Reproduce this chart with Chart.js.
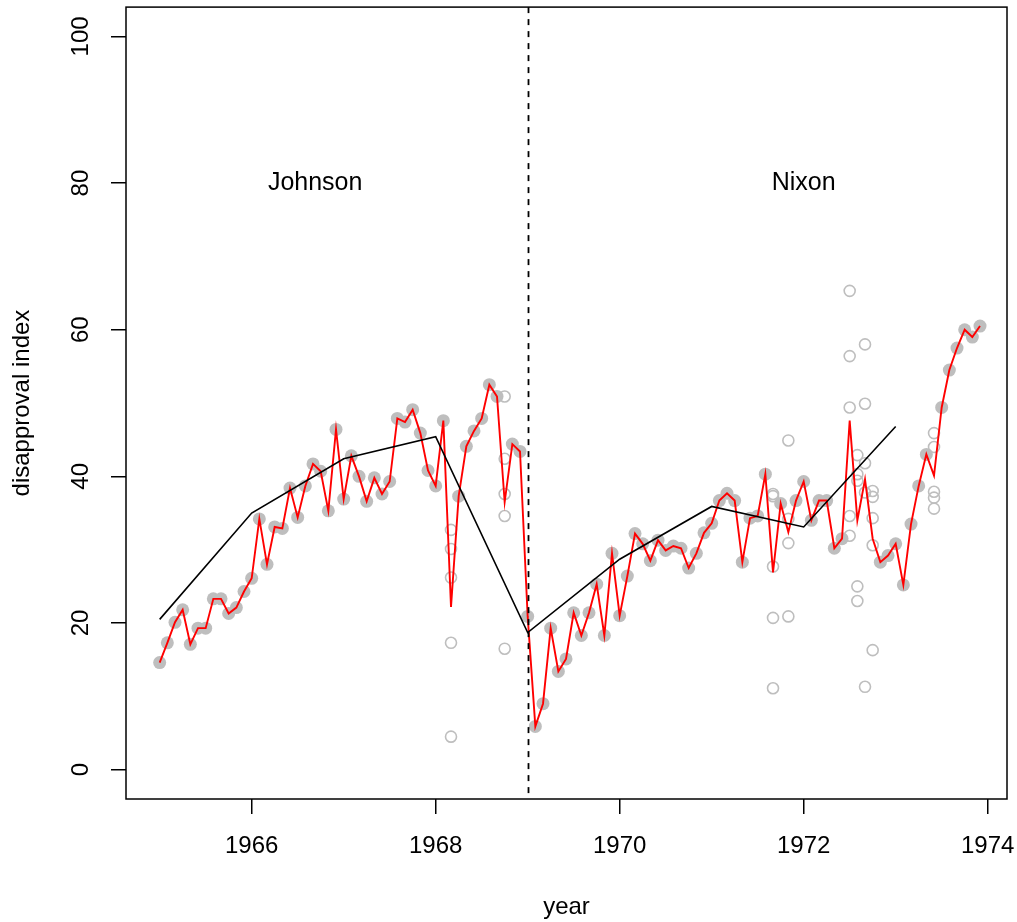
<!DOCTYPE html>
<html lang="en">
<head>
    <meta charset="UTF-8">
    <title>Disapproval index, Johnson and Nixon</title>
    <style>
        body {
            margin: 0;
            background: #ffffff;
        }
        #chart-wrap {
            width: 1017px;
            height: 922px;
        }
    </style>
</head>
<body>
    <div id="chart-wrap">
        <canvas id="chart" width="1017" height="922"></canvas>
    </div>
    <script src="https://cdn.jsdelivr.net/npm/chart.js@4/dist/chart.umd.min.js"></script>
    <script>
        // monthly series starts Jan 1965, one value per month
        const startYear = 1965;
        const monthlyIndex = [
            14.6, 17.3, 20.1, 21.8, 17.1, 19.3, 19.3, 23.3, 23.3, 21.3, 22.1, 24.3,
            26.1, 34.2, 28.0, 33.1, 32.9, 38.4, 34.4, 38.7, 41.7, 40.7, 35.3, 46.4,
            36.9, 42.8, 40.0, 36.6, 39.8, 37.6, 39.3, 47.9, 47.4, 49.1, 45.9, 40.8,
            38.7, 47.6, 22.2, 37.3, 44.1, 46.2, 47.9, 52.5, 50.9, 36.5, 44.4, 43.4,
            20.9, 5.9, 9.0, 19.3, 13.4, 15.1, 21.4, 18.3, 21.4, 25.3, 18.3, 29.5,
            21.0, 26.4, 32.2, 30.8, 28.5, 31.3, 29.9, 30.5, 30.2, 27.5, 29.5, 32.3,
            33.6, 36.7, 37.7, 36.7, 28.3, 34.3, 34.6, 40.3, 26.9, 36.3, 32.4, 36.7,
            39.3, 34.0, 36.7, 36.7, 30.2, 31.5, 47.6, 34.0, 39.6, 31.5, 28.3, 29.2,
            30.8, 25.2, 33.5, 38.7, 43.0, 40.1, 49.4, 54.5, 57.5, 60.0, 59.0, 60.5
        ];

        // months with several polls: month number (from Jan 1965) and the single polls
        const multiPollMonths = [38, 45, 80, 82, 90, 91, 92, 93, 101];
        const multiPollValues = [
            [32.7, 30.1, 26.2, 17.3, 4.5],
            [50.9, 42.4, 37.6, 34.6, 16.5],
            [37.6, 37.3, 27.7, 20.7, 11.1],
            [44.9, 34.2, 30.9, 20.9],
            [65.3, 56.4, 49.4, 34.6, 31.9],
            [42.9, 40.3, 39.4, 25.0, 23.0],
            [58.0, 49.9, 41.8, 37.8, 11.3],
            [38.0, 37.2, 34.3, 30.6, 16.3],
            [45.9, 44.0, 37.9, 37.1, 35.6]
        ];

        // yearly level, plotted at the start of each year
        const years = [1965, 1966, 1967, 1968, 1969, 1970, 1971, 1972, 1973];
        const yearlyIndex = [20.5, 35.0, 42.4, 45.4, 18.7, 28.7, 35.9, 33.1, 46.8];

        const xTicks = [1966, 1968, 1970, 1972, 1974];
        const yTicks = [0, 20, 40, 60, 80, 100];

        const presidents = ['Johnson', 'Nixon'];
        const presidentLabelX = [1966.69, 1972.0];
        const presidentLabelY = 80;
        const changeOver = 1969;

        const FONT = '"Liberation Sans", Arial, Helvetica, sans-serif';
        const GREY = '#bebebe';

        const monthX = i => startYear + i / 12;

        const redLine = monthlyIndex.map((v, i) => ({x: monthX(i), y: v}));
        const singlePolls = monthlyIndex
            .map((v, i) => ({x: monthX(i), y: v}))
            .filter((p, i) => !multiPollMonths.includes(i));
        const manyPolls = [];
        multiPollMonths.forEach((m, k) => {
            multiPollValues[k].forEach(v => manyPolls.push({x: monthX(m), y: v}));
        });
        const blackLine = years.map((yr, i) => ({x: yr, y: yearlyIndex[i]}));

        const extras = {
            id: 'extras',
            afterDatasetsDraw(chart) {
                const {ctx, chartArea: a, scales: {x, y}} = chart;
                ctx.save();
                // vertical dashed line at the change of president
                const px = Math.round(x.getPixelForValue(changeOver)) + 0.5;
                ctx.strokeStyle = '#000';
                ctx.lineWidth = 1.8;
                ctx.setLineDash([6, 6]);
                ctx.beginPath();
                ctx.moveTo(px, a.top);
                ctx.lineTo(px, a.bottom);
                ctx.stroke();
                ctx.setLineDash([]);
                // plot box
                ctx.lineWidth = 1.5;
                ctx.strokeRect(a.left, a.top, a.right - a.left, a.bottom - a.top);
                // president names
                ctx.font = '25px ' + FONT;
                ctx.fillStyle = '#000';
                ctx.textAlign = 'center';
                ctx.textBaseline = 'middle';
                presidents.forEach((name, i) => {
                    ctx.fillText(name, x.getPixelForValue(presidentLabelX[i]), y.getPixelForValue(presidentLabelY));
                });
                ctx.restore();
            }
        };

        new Chart(document.getElementById('chart'), {
            type: 'scatter',
            data: {
                datasets: [
                    {
                        label: 'yearly',
                        data: blackLine,
                        showLine: true,
                        borderColor: '#000',
                        borderWidth: 1.6,
                        pointRadius: 0,
                        order: 1
                    },
                    {
                        label: 'monthly',
                        data: redLine,
                        showLine: true,
                        borderColor: '#ff0000',
                        borderWidth: 1.9,
                        pointRadius: 0,
                        order: 2
                    },
                    {
                        label: 'single poll',
                        data: singlePolls,
                        pointRadius: 6.5,
                        pointBorderWidth: 0,
                        pointBackgroundColor: GREY,
                        pointBorderColor: GREY,
                        order: 3
                    },
                    {
                        label: 'several polls',
                        data: manyPolls,
                        pointRadius: 5.5,
                        pointBorderWidth: 1.6,
                        pointBackgroundColor: 'rgba(0,0,0,0)',
                        pointBorderColor: GREY,
                        order: 4
                    }
                ]
            },
            options: {
                responsive: false,
                animation: false,
                events: [],
                layout: {padding: {top: 6, right: 10, left: 0, bottom: 0}},
                plugins: {
                    legend: {display: false},
                    tooltip: {enabled: false}
                },
                scales: {
                    x: {
                        type: 'linear',
                        min: 1964.634,
                        max: 1974.21,
                        afterBuildTicks: s => { s.ticks = xTicks.map(v => ({value: v})); },
                        afterFit: s => {
                            s.height = 123;
                            s.paddingLeft = 0;
                            s.paddingRight = 0;
                        },
                        border: {display: false},
                        grid: {
                            drawOnChartArea: false,
                            drawTicks: true,
                            tickLength: 15,
                            color: '#000',
                            lineWidth: 1.5
                        },
                        ticks: {
                            color: '#000',
                            font: {family: FONT, size: 24},
                            padding: 18,
                            autoSkip: false,
                            maxRotation: 0,
                            callback: v => String(v)
                        },
                        title: {
                            display: true,
                            text: 'year',
                            color: '#000',
                            font: {family: FONT, size: 24},
                            padding: {top: 0, bottom: 0}
                        }
                    },
                    y: {
                        type: 'linear',
                        min: -4,
                        max: 104,
                        afterBuildTicks: s => { s.ticks = yTicks.map(v => ({value: v})); },
                        afterFit: s => {
                            s.width = 126;
                            s.paddingTop = 0;
                            s.paddingBottom = 0;
                        },
                        border: {display: false},
                        grid: {
                            drawOnChartArea: false,
                            drawTicks: true,
                            tickLength: 15,
                            color: '#000',
                            lineWidth: 1.5
                        },
                        ticks: {
                            color: '#000',
                            font: {family: FONT, size: 24},
                            padding: 10,
                            minRotation: 90,
                            maxRotation: 90,
                            crossAlign: 'center',
                            autoSkip: false,
                            callback: v => String(v)
                        },
                        title: {
                            display: true,
                            text: 'disapproval index',
                            color: '#000',
                            font: {family: FONT, size: 24},
                            padding: {top: 8, bottom: 0}
                        }
                    }
                }
            },
            plugins: [extras]
        });
    </script>
</body>
</html>
